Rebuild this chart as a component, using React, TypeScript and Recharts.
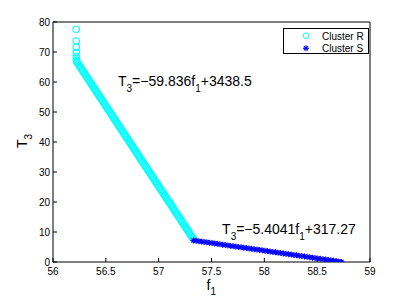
import React from "react";
import {
  ScatterChart,
  Scatter,
  XAxis,
  YAxis,
  ReferenceDot,
  Label,
} from "recharts";

// Cluster R: f1 values and T3 values
const rF = [
  56.22, 56.22, 56.22, 56.22, 56.22, 56.22, 56.225,
  56.23, 56.24, 56.25, 56.26, 56.27, 56.28, 56.29, 56.3, 56.31, 56.32,
  56.33, 56.34, 56.35, 56.36, 56.37, 56.38, 56.39, 56.4, 56.41, 56.42,
  56.43, 56.44, 56.45, 56.46, 56.47, 56.48, 56.49, 56.5, 56.51, 56.52,
  56.53, 56.54, 56.55, 56.56, 56.57, 56.58, 56.59, 56.6, 56.61, 56.62,
  56.63, 56.64, 56.65, 56.66, 56.67, 56.68, 56.69, 56.7, 56.71, 56.72,
  56.73, 56.74, 56.75, 56.76, 56.77, 56.78, 56.79, 56.8, 56.81, 56.82,
  56.83, 56.84, 56.85, 56.86, 56.87, 56.88, 56.89, 56.9, 56.91, 56.92,
  56.93, 56.94, 56.95, 56.96, 56.97, 56.98, 56.99, 57.0, 57.01, 57.02,
  57.03, 57.04, 57.05, 57.06, 57.07, 57.08, 57.09, 57.1, 57.11, 57.12,
  57.13, 57.14, 57.15, 57.16, 57.17, 57.18, 57.19, 57.2, 57.21, 57.22,
  57.23, 57.24, 57.25, 57.26, 57.27, 57.28, 57.29, 57.3, 57.31, 57.32,
  57.33,
];
const rT = [
  77.6, 73.7, 71.6, 69.8, 68.4, 67.3, 66.8,
  66.5, 65.96, 65.43, 64.89, 64.36, 63.82, 63.29, 62.75, 62.22, 61.68,
  61.15, 60.61, 60.07, 59.54, 59.0, 58.47, 57.93, 57.4, 56.86, 56.33,
  55.79, 55.25, 54.72, 54.18, 53.65, 53.11, 52.58, 52.04, 51.51, 50.97,
  50.44, 49.9, 49.36, 48.83, 48.29, 47.76, 47.22, 46.69, 46.15, 45.62,
  45.08, 44.54, 44.01, 43.47, 42.94, 42.4, 41.87, 41.33, 40.8, 40.26,
  39.73, 39.19, 38.65, 38.12, 37.58, 37.05, 36.51, 35.98, 35.44, 34.91,
  34.37, 33.83, 33.3, 32.76, 32.23, 31.69, 31.16, 30.62, 30.09, 29.55,
  29.02, 28.48, 27.94, 27.41, 26.87, 26.34, 25.8, 25.27, 24.73, 24.2,
  23.66, 23.12, 22.59, 22.05, 21.52, 20.98, 20.45, 19.91, 19.38, 18.84,
  18.31, 17.77, 17.23, 16.7, 16.16, 15.63, 15.09, 14.56, 14.02, 13.49,
  12.95, 12.41, 11.88, 11.34, 10.81, 10.27, 9.74, 9.2, 8.67, 8.13,
  7.6,
];

// Cluster S
const sF = [
  57.33, 57.355, 57.38, 57.405, 57.43, 57.455, 57.48, 57.505, 57.53, 57.555,
  57.58, 57.605, 57.63, 57.655, 57.68, 57.705, 57.73, 57.755, 57.78, 57.805,
  57.83, 57.855, 57.88, 57.905, 57.93, 57.955, 57.98, 58.005, 58.03, 58.055,
  58.08, 58.105, 58.13, 58.155, 58.18, 58.205, 58.23, 58.255, 58.28, 58.305,
  58.33, 58.355, 58.38, 58.405, 58.43, 58.455, 58.48, 58.505, 58.53, 58.555,
  58.58, 58.605, 58.63, 58.655, 58.68, 58.705, 58.73,
];
const sT = [
  7.2, 7.07, 6.94, 6.82, 6.69, 6.56, 6.43, 6.31, 6.18, 6.05,
  5.92, 5.79, 5.67, 5.54, 5.41, 5.28, 5.16, 5.03, 4.9, 4.77,
  4.65, 4.52, 4.39, 4.26, 4.13, 4.01, 3.88, 3.75, 3.62, 3.5,
  3.37, 3.24, 3.11, 2.99, 2.86, 2.73, 2.6, 2.47, 2.35, 2.22,
  2.09, 1.96, 1.84, 1.71, 1.58, 1.45, 1.33, 1.2, 1.07, 0.94,
  0.81, 0.69, 0.56, 0.43, 0.3, 0.18, 0.05,
];

const xTicks = [56, 56.5, 57, 57.5, 58, 58.5, 59];
const yTicks = [0, 10, 20, 30, 40, 50, 60, 70, 80];

const clusterR = rF.map((f, i) => ({ f, t: rT[i] }));
const clusterS = sF.map((f, i) => ({ f, t: sT[i] }));

const FONT = "'Liberation Sans', Arial, Helvetica, sans-serif";
const CYAN = "#00ffff";
const BLUE = "#0000ff";

const CircleMark = (p: any) => (
  <circle cx={p.cx} cy={p.cy} r={3.2} fill="none" stroke={CYAN} strokeWidth={1.1} />
);

const StarMark = (p: any) => {
  const d = 3;
  const e = 2.1;
  return (
    <g stroke={BLUE} strokeWidth={1.1}>
      <line x1={p.cx - d} y1={p.cy} x2={p.cx + d} y2={p.cy} />
      <line x1={p.cx} y1={p.cy - d} x2={p.cx} y2={p.cy + d} />
      <line x1={p.cx - e} y1={p.cy - e} x2={p.cx + e} y2={p.cy + e} />
      <line x1={p.cx - e} y1={p.cy + e} x2={p.cx + e} y2={p.cy - e} />
    </g>
  );
};

// equation text drawn with subscripts
const eqShape = (a: string, b: string) => (p: any) => (
  <text x={p.cx} y={p.cy} fontFamily={FONT} fontSize={14} fill="#000">
    <tspan>T</tspan>
    <tspan dy={6} fontSize={10}>3</tspan>
    <tspan dy={-6}>{a}</tspan>
    <tspan dy={6} fontSize={10}>1</tspan>
    <tspan dy={-6}>{b}</tspan>
  </text>
);

export default function App() {
  return (
    <div style={{ position: "absolute", left: 0, top: 0, width: 409, height: 302, background: "#fff" }}>
      <ScatterChart
        width={409}
        height={302}
        margin={{ top: 22, right: 39, bottom: 0, left: 0 }}
      >
        <XAxis
          type="number"
          dataKey="f"
          domain={[56, 59]}
          ticks={xTicks}
          allowDataOverflow
          height={40}
          tickSize={-4}
          tickMargin={10}
          stroke="#000"
          tick={{ fill: "#000", fontSize: 10, fontFamily: FONT }}
        >
          <Label
            content={(props: any) => {
              const vb = props.viewBox;
              return (
                <text x={vb.x + vb.width / 2 - 5} y={290} fontFamily={FONT} fontSize={14} fill="#000">
                  <tspan>f</tspan>
                  <tspan dy={5} fontSize={10}>1</tspan>
                </text>
              );
            }}
          />
        </XAxis>
        <XAxis
          xAxisId="top"
          orientation="top"
          mirror
          type="number"
          domain={[56, 59]}
          ticks={xTicks}
          allowDataOverflow
          tick={false}
          tickSize={4}
          stroke="#000"
        />
        <YAxis
          type="number"
          dataKey="t"
          domain={[0, 80]}
          ticks={yTicks}
          allowDataOverflow
          width={53}
          tickSize={-4}
          tickMargin={7}
          stroke="#000"
          tick={{ fill: "#000", fontSize: 10, fontFamily: FONT }}
        >
          <Label
            content={() => (
              <text
                x={0}
                y={0}
                transform="translate(27,148) rotate(-90)"
                fontFamily={FONT}
                fontSize={14}
                fill="#000"
              >
                <tspan>T</tspan>
                <tspan dy={5} fontSize={10}>3</tspan>
              </text>
            )}
          />
        </YAxis>
        <YAxis
          yAxisId="right"
          orientation="right"
          mirror
          type="number"
          domain={[0, 80]}
          ticks={yTicks}
          allowDataOverflow
          tick={false}
          tickSize={4}
          stroke="#000"
        />
        <Scatter
          name="Cluster R"
          data={clusterR}
          shape={CircleMark}
          isAnimationActive={false}
        />
        <Scatter
          name="Cluster S"
          data={clusterS}
          shape={StarMark}
          isAnimationActive={false}
        />
        <ReferenceDot
          x={56.615}
          y={58.7}
          r={0}
          shape={eqShape("=\u221259.836f", "+3438.5")}
        />
        <ReferenceDot
          x={57.6}
          y={9.3}
          r={0}
          shape={eqShape("=\u22125.4041f", "+317.27")}
        />
      </ScatterChart>
      <div style={{ position: "absolute", left: 283, top: 28 }}>
        <svg width={87} height={27}>
          <rect x={0.5} y={0.5} width={85} height={25} fill="#fff" stroke="#000" strokeWidth={1} />
          <circle cx={23} cy={7.7} r={2.8} fill="none" stroke={CYAN} strokeWidth={1} />
          <StarMark cx={23} cy={20.3} />
          <text x={39} y={11.5} fontFamily={FONT} fontSize={10} fill="#000">Cluster R</text>
          <text x={39} y={24} fontFamily={FONT} fontSize={10} fill="#000">Cluster S</text>
        </svg>
      </div>
    </div>
  );
}
